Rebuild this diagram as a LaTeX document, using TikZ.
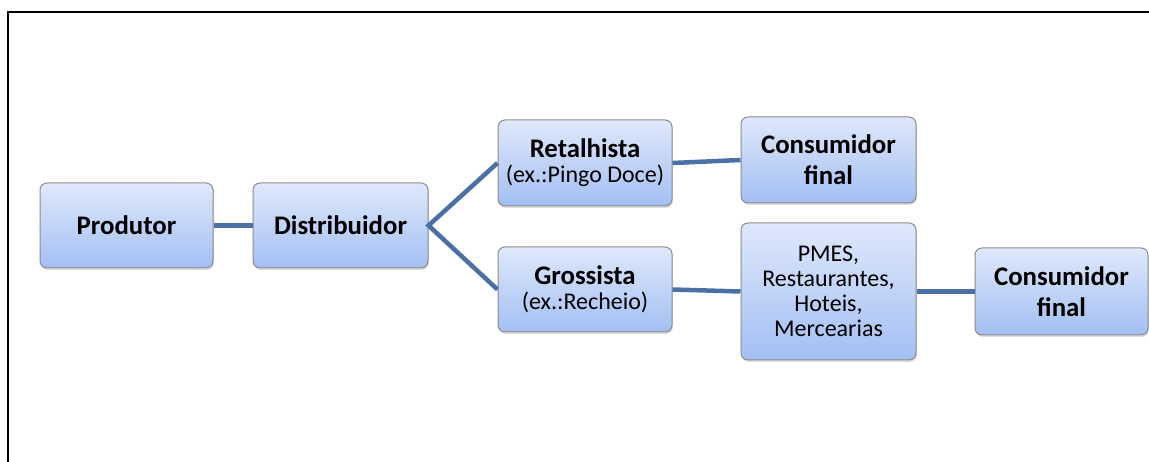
\documentclass[tikz,border=0pt]{standalone}
\usepackage{fontspec}
\setmainfont{Carlito}
\usetikzlibrary{shadows}
\definecolor{boxtop}{HTML}{DFE8FB}
\definecolor{boxbot}{HTML}{A3BFF3}
\definecolor{linkblue}{HTML}{4A70A6}
\begin{document}
\begin{tikzpicture}[x=1pt,y=-1pt,
  box/.style={rectangle,rounded corners=7pt,draw=black!45,line width=1pt,
    top color=boxtop,bottom color=boxbot,align=center,inner sep=2pt,
    drop shadow={opacity=0.25,shadow xshift=1pt,shadow yshift=-2pt},
    font=\fontsize{24}{25}\selectfont},
  big/.style={font=\bfseries\fontsize{26.8}{31}\selectfont},
  link/.style={draw=linkblue,line width=4.5pt}]
\useasboundingbox (0,0) rectangle (1149,462);
\draw[line width=1.5pt] (1149,12) -- (8,12) -- (8,462);
\node (prod) at (126.5,225.5) [box,big,minimum width=173pt,minimum height=85pt] {Produtor};
\node (dist) at (340.5,225.5) [box,big,minimum width=175pt,minimum height=85pt] {Distribuidor};
\node (ret) at (585,163) [box,minimum width=174pt,minimum height=86pt] {{\bfseries\fontsize{26.8}{29}\selectfont Retalhista}\\(ex.:Pingo Doce)};
\node (gros) at (585,289.5) [box,minimum width=174pt,minimum height=85pt] {{\bfseries\fontsize{26.8}{29}\selectfont Grossista}\\(ex.:Recheio)};
\node (cons1) at (828.5,160) [box,big,minimum width=175pt,minimum height=86pt] {Consumidor\\final};
\node (pmes) at (828.5,291.5) [box,minimum width=175pt,minimum height=137pt] {PMES,\\Restaurantes,\\Hoteis,\\Mercearias};
\node (cons2) at (1061.5,291.5) [box,big,minimum width=173pt,minimum height=87pt] {Consumidor\\final};
\draw[link] (prod) -- (dist);
\draw[link] (ret.west) -- (dist.east) -- (gros.west);
\draw[link] (ret.east) -- (cons1.west);
\draw[link] (gros.east) -- (pmes.west);
\draw[link] (pmes) -- (cons2);
\end{tikzpicture}
\end{document}
